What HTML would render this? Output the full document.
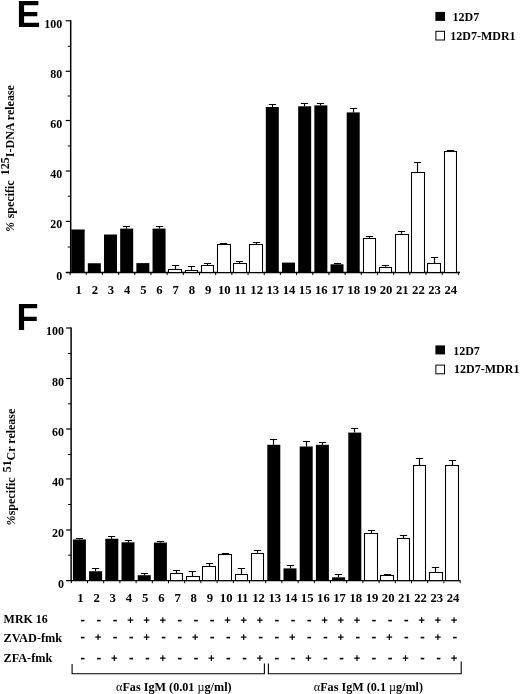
<!DOCTYPE html>
<html><head><meta charset="utf-8"><title>Figure</title>
<style>html,body{margin:0;padding:0;background:#fff;}body{width:520px;height:694px;overflow:hidden;font-family:"Liberation Serif",serif;}</style></head>
<body>
<svg width="520" height="694" viewBox="0 0 520 694" style="display:block;will-change:transform;font-family:&quot;Liberation Serif&quot;,serif;font-weight:bold;" fill="#000">
<rect width="520" height="694" fill="#fff"/>
<text x="16.5" y="26.9" font-size="36" style="font-family:&quot;Liberation Sans&quot;,sans-serif;font-weight:bold">E</text>
<text x="16.5" y="330.2" font-size="36" style="font-family:&quot;Liberation Sans&quot;,sans-serif;font-weight:bold">F</text>
<rect x="70.7" y="229.5" width="1.5" height="43" fill="#666"/>
<line x1="70.7" y1="20.25" x2="70.7" y2="273.2" stroke="#000" stroke-width="1.5"/>
<text x="62.3" y="279.5" font-size="12" text-anchor="end" >0</text>
<line x1="67.7" y1="247" x2="70.7" y2="247" stroke="#000" stroke-width="1"/>
<line x1="65.7" y1="221.4" x2="70.7" y2="221.4" stroke="#000" stroke-width="1.2"/>
<text x="62.3" y="228.4" font-size="12" text-anchor="end" >20</text>
<line x1="67.7" y1="196.2" x2="70.7" y2="196.2" stroke="#000" stroke-width="1"/>
<line x1="65.7" y1="171" x2="70.7" y2="171" stroke="#000" stroke-width="1.2"/>
<text x="62.3" y="178.0" font-size="12" text-anchor="end" >40</text>
<line x1="67.7" y1="146" x2="70.7" y2="146" stroke="#000" stroke-width="1"/>
<line x1="65.7" y1="120.5" x2="70.7" y2="120.5" stroke="#000" stroke-width="1.2"/>
<text x="62.3" y="127.5" font-size="12" text-anchor="end" >60</text>
<line x1="67.7" y1="96" x2="70.7" y2="96" stroke="#000" stroke-width="1"/>
<line x1="65.7" y1="71.3" x2="70.7" y2="71.3" stroke="#000" stroke-width="1.2"/>
<text x="62.3" y="78.3" font-size="12" text-anchor="end" >80</text>
<line x1="67.7" y1="46.3" x2="70.7" y2="46.3" stroke="#000" stroke-width="1"/>
<line x1="65.7" y1="20.75" x2="70.7" y2="20.75" stroke="#000" stroke-width="1.2"/>
<text x="62.3" y="27.8" font-size="12" text-anchor="end" >100</text>
<line x1="65.7" y1="272.5" x2="460" y2="272.5" stroke="#000" stroke-width="1.4"/>
<line x1="70.06" y1="272.5" x2="70.06" y2="275.1" stroke="#000" stroke-width="1"/>
<line x1="86.24" y1="272.5" x2="86.24" y2="275.1" stroke="#000" stroke-width="1"/>
<line x1="102.42" y1="272.5" x2="102.42" y2="275.1" stroke="#000" stroke-width="1"/>
<line x1="118.60" y1="272.5" x2="118.60" y2="275.1" stroke="#000" stroke-width="1"/>
<line x1="134.78" y1="272.5" x2="134.78" y2="275.1" stroke="#000" stroke-width="1"/>
<line x1="150.96" y1="272.5" x2="150.96" y2="275.1" stroke="#000" stroke-width="1"/>
<line x1="167.14" y1="272.5" x2="167.14" y2="275.1" stroke="#000" stroke-width="1"/>
<line x1="183.32" y1="272.5" x2="183.32" y2="275.1" stroke="#000" stroke-width="1"/>
<line x1="199.50" y1="272.5" x2="199.50" y2="275.1" stroke="#000" stroke-width="1"/>
<line x1="215.68" y1="272.5" x2="215.68" y2="275.1" stroke="#000" stroke-width="1"/>
<line x1="231.86" y1="272.5" x2="231.86" y2="275.1" stroke="#000" stroke-width="1"/>
<line x1="248.04" y1="272.5" x2="248.04" y2="275.1" stroke="#000" stroke-width="1"/>
<line x1="264.22" y1="272.5" x2="264.22" y2="275.1" stroke="#000" stroke-width="1"/>
<line x1="280.40" y1="272.5" x2="280.40" y2="275.1" stroke="#000" stroke-width="1"/>
<line x1="296.58" y1="272.5" x2="296.58" y2="275.1" stroke="#000" stroke-width="1"/>
<line x1="312.76" y1="272.5" x2="312.76" y2="275.1" stroke="#000" stroke-width="1"/>
<line x1="328.94" y1="272.5" x2="328.94" y2="275.1" stroke="#000" stroke-width="1"/>
<line x1="345.12" y1="272.5" x2="345.12" y2="275.1" stroke="#000" stroke-width="1"/>
<line x1="361.30" y1="272.5" x2="361.30" y2="275.1" stroke="#000" stroke-width="1"/>
<line x1="377.48" y1="272.5" x2="377.48" y2="275.1" stroke="#000" stroke-width="1"/>
<line x1="393.66" y1="272.5" x2="393.66" y2="275.1" stroke="#000" stroke-width="1"/>
<line x1="409.84" y1="272.5" x2="409.84" y2="275.1" stroke="#000" stroke-width="1"/>
<line x1="426.02" y1="272.5" x2="426.02" y2="275.1" stroke="#000" stroke-width="1"/>
<line x1="442.20" y1="272.5" x2="442.20" y2="275.1" stroke="#000" stroke-width="1"/>
<line x1="458.38" y1="272.5" x2="458.38" y2="275.1" stroke="#000" stroke-width="1"/>
<rect x="71.65" y="229.5" width="13.0" height="43.00" fill="#000"/>
<text transform="translate(78.65,294.0) scale(1.06,1)" font-size="12" text-anchor="middle">1</text>
<rect x="87.83" y="263.25" width="13.0" height="9.25" fill="#000"/>
<text transform="translate(94.83,294.0) scale(1.06,1)" font-size="12" text-anchor="middle">2</text>
<rect x="104.01" y="234.5" width="13.0" height="38.00" fill="#000"/>
<text transform="translate(111.01,294.0) scale(1.06,1)" font-size="12" text-anchor="middle">3</text>
<path d="M126.5 228.6 V226.5 M122.90 226.5 H130.10" stroke="#000" stroke-width="1.15" fill="none"/>
<rect x="120.19" y="228.6" width="13.0" height="43.90" fill="#000"/>
<text transform="translate(127.19,294.0) scale(1.06,1)" font-size="12" text-anchor="middle">4</text>
<rect x="136.37" y="263.1" width="13.0" height="9.40" fill="#000"/>
<text transform="translate(143.37,294.0) scale(1.06,1)" font-size="12" text-anchor="middle">5</text>
<path d="M159.5 228.6 V226.5 M155.90 226.5 H163.10" stroke="#000" stroke-width="1.15" fill="none"/>
<rect x="152.55" y="228.6" width="13.0" height="43.90" fill="#000"/>
<text transform="translate(159.55,294.0) scale(1.06,1)" font-size="12" text-anchor="middle">6</text>
<path d="M175.5 269 V265.5 M171.90 265.5 H179.10" stroke="#000" stroke-width="1.15" fill="none"/>
<rect x="168.5" y="269.5" width="13.0" height="3.00" fill="#fff" stroke="#000" stroke-width="1.05"/>
<text transform="translate(175.73,294.0) scale(1.06,1)" font-size="12" text-anchor="middle">7</text>
<path d="M191.5 269.8 V266.5 M187.90 266.5 H195.10" stroke="#000" stroke-width="1.15" fill="none"/>
<rect x="185.5" y="270.5" width="12.0" height="2.00" fill="#fff" stroke="#000" stroke-width="1.05"/>
<text transform="translate(191.91,294.0) scale(1.06,1)" font-size="12" text-anchor="middle">8</text>
<path d="M207.5 265.0 V263.5 M203.90 263.5 H211.10" stroke="#000" stroke-width="1.15" fill="none"/>
<rect x="201.5" y="265.5" width="12.0" height="7.00" fill="#fff" stroke="#000" stroke-width="1.05"/>
<text transform="translate(208.09,294.0) scale(1.06,1)" font-size="12" text-anchor="middle">9</text>
<path d="M223.5 243.9 V243.5 M219.90 243.5 H227.10" stroke="#000" stroke-width="1.15" fill="none"/>
<rect x="217.5" y="244.5" width="13.0" height="28.00" fill="#fff" stroke="#000" stroke-width="1.05"/>
<text transform="translate(224.27,294.0) scale(1.06,1)" font-size="12" text-anchor="middle">10</text>
<path d="M239.5 262.9 V261.5 M235.90 261.5 H243.10" stroke="#000" stroke-width="1.15" fill="none"/>
<rect x="233.5" y="263.5" width="13.0" height="9.00" fill="#fff" stroke="#000" stroke-width="1.05"/>
<text transform="translate(240.45,294.0) scale(1.06,1)" font-size="12" text-anchor="middle">11</text>
<path d="M256.5 244.6 V242.5 M252.90 242.5 H260.10" stroke="#000" stroke-width="1.15" fill="none"/>
<rect x="249.5" y="244.5" width="13.0" height="28.00" fill="#fff" stroke="#000" stroke-width="1.05"/>
<text transform="translate(256.63,294.0) scale(1.06,1)" font-size="12" text-anchor="middle">12</text>
<path d="M272.5 107.0 V104.5 M268.90 104.5 H276.10" stroke="#000" stroke-width="1.15" fill="none"/>
<rect x="265.81" y="107.0" width="13.0" height="165.50" fill="#000"/>
<text transform="translate(272.81,294.0) scale(1.06,1)" font-size="12" text-anchor="middle">13</text>
<rect x="281.99" y="262.6" width="13.0" height="9.90" fill="#000"/>
<text transform="translate(288.99,294.0) scale(1.06,1)" font-size="12" text-anchor="middle">14</text>
<path d="M304.5 106.3 V103.5 M300.90 103.5 H308.10" stroke="#000" stroke-width="1.15" fill="none"/>
<rect x="298.17" y="106.3" width="13.0" height="166.20" fill="#000"/>
<text transform="translate(305.17,294.0) scale(1.06,1)" font-size="12" text-anchor="middle">15</text>
<path d="M320.5 105.4 V103.5 M316.90 103.5 H324.10" stroke="#000" stroke-width="1.15" fill="none"/>
<rect x="314.35" y="105.4" width="13.0" height="167.10" fill="#000"/>
<text transform="translate(321.35,294.0) scale(1.06,1)" font-size="12" text-anchor="middle">16</text>
<path d="M337.5 264.3 V263.5 M333.90 263.5 H341.10" stroke="#000" stroke-width="1.15" fill="none"/>
<rect x="330.53" y="264.3" width="13.0" height="8.20" fill="#000"/>
<text transform="translate(337.53,294.0) scale(1.06,1)" font-size="12" text-anchor="middle">17</text>
<path d="M353.5 112.4 V108.5 M349.90 108.5 H357.10" stroke="#000" stroke-width="1.15" fill="none"/>
<rect x="346.71" y="112.4" width="13.0" height="160.10" fill="#000"/>
<text transform="translate(353.71,294.0) scale(1.06,1)" font-size="12" text-anchor="middle">18</text>
<path d="M369.5 238.5 V236.5 M365.90 236.5 H373.10" stroke="#000" stroke-width="1.15" fill="none"/>
<rect x="363.5" y="238.5" width="12.0" height="34.00" fill="#fff" stroke="#000" stroke-width="1.05"/>
<text transform="translate(369.89,294.0) scale(1.06,1)" font-size="12" text-anchor="middle">19</text>
<path d="M385.5 266.8 V265.5 M381.90 265.5 H389.10" stroke="#000" stroke-width="1.15" fill="none"/>
<rect x="379.5" y="267.5" width="12.0" height="5.00" fill="#fff" stroke="#000" stroke-width="1.05"/>
<text transform="translate(386.07,294.0) scale(1.06,1)" font-size="12" text-anchor="middle">20</text>
<path d="M401.5 234.7 V231.5 M397.90 231.5 H405.10" stroke="#000" stroke-width="1.15" fill="none"/>
<rect x="395.5" y="234.5" width="13.0" height="38.00" fill="#fff" stroke="#000" stroke-width="1.05"/>
<text transform="translate(402.25,294.0) scale(1.06,1)" font-size="12" text-anchor="middle">21</text>
<path d="M417.5 172.5 V162.5 M413.90 162.5 H421.10" stroke="#000" stroke-width="1.15" fill="none"/>
<rect x="411.5" y="172.5" width="13.0" height="100.00" fill="#fff" stroke="#000" stroke-width="1.05"/>
<text transform="translate(418.43,294.0) scale(1.06,1)" font-size="12" text-anchor="middle">22</text>
<path d="M434.5 263 V257.5 M430.90 257.5 H438.10" stroke="#000" stroke-width="1.15" fill="none"/>
<rect x="427.5" y="263.5" width="13.0" height="9.00" fill="#fff" stroke="#000" stroke-width="1.05"/>
<text transform="translate(434.61,294.0) scale(1.06,1)" font-size="12" text-anchor="middle">23</text>
<path d="M450.5 151.3 V150.5 M446.90 150.5 H454.10" stroke="#000" stroke-width="1.15" fill="none"/>
<rect x="444.5" y="151.5" width="12.0" height="121.00" fill="#fff" stroke="#000" stroke-width="1.05"/>
<text transform="translate(450.79,294.0) scale(1.06,1)" font-size="12" text-anchor="middle">24</text>
<line x1="71.1" y1="327.5" x2="71.1" y2="581.3000000000001" stroke="#000" stroke-width="1.5"/>
<text x="64" y="588.0" font-size="12" text-anchor="end" >0</text>
<line x1="68.1" y1="555.2" x2="71.1" y2="555.2" stroke="#000" stroke-width="1"/>
<line x1="66.1" y1="530" x2="71.1" y2="530" stroke="#000" stroke-width="1.2"/>
<text x="64" y="537.4" font-size="12" text-anchor="end" >20</text>
<line x1="68.1" y1="504.5" x2="71.1" y2="504.5" stroke="#000" stroke-width="1"/>
<line x1="66.1" y1="478.9" x2="71.1" y2="478.9" stroke="#000" stroke-width="1.2"/>
<text x="64" y="486.3" font-size="12" text-anchor="end" >40</text>
<line x1="68.1" y1="454.5" x2="71.1" y2="454.5" stroke="#000" stroke-width="1"/>
<line x1="66.1" y1="429" x2="71.1" y2="429" stroke="#000" stroke-width="1.2"/>
<text x="64" y="436.4" font-size="12" text-anchor="end" >60</text>
<line x1="68.1" y1="403.8" x2="71.1" y2="403.8" stroke="#000" stroke-width="1"/>
<line x1="66.1" y1="378.5" x2="71.1" y2="378.5" stroke="#000" stroke-width="1.2"/>
<text x="64" y="385.9" font-size="12" text-anchor="end" >80</text>
<line x1="68.1" y1="353.5" x2="71.1" y2="353.5" stroke="#000" stroke-width="1"/>
<line x1="66.1" y1="328" x2="71.1" y2="328" stroke="#000" stroke-width="1.2"/>
<text x="64" y="335.4" font-size="12" text-anchor="end" >100</text>
<line x1="66.1" y1="580.6" x2="460.5" y2="580.6" stroke="#000" stroke-width="1.4"/>
<line x1="71.30" y1="580.6" x2="71.30" y2="583.2" stroke="#000" stroke-width="1"/>
<line x1="87.50" y1="580.6" x2="87.50" y2="583.2" stroke="#000" stroke-width="1"/>
<line x1="103.70" y1="580.6" x2="103.70" y2="583.2" stroke="#000" stroke-width="1"/>
<line x1="119.90" y1="580.6" x2="119.90" y2="583.2" stroke="#000" stroke-width="1"/>
<line x1="136.10" y1="580.6" x2="136.10" y2="583.2" stroke="#000" stroke-width="1"/>
<line x1="152.30" y1="580.6" x2="152.30" y2="583.2" stroke="#000" stroke-width="1"/>
<line x1="168.50" y1="580.6" x2="168.50" y2="583.2" stroke="#000" stroke-width="1"/>
<line x1="184.70" y1="580.6" x2="184.70" y2="583.2" stroke="#000" stroke-width="1"/>
<line x1="200.90" y1="580.6" x2="200.90" y2="583.2" stroke="#000" stroke-width="1"/>
<line x1="217.10" y1="580.6" x2="217.10" y2="583.2" stroke="#000" stroke-width="1"/>
<line x1="233.30" y1="580.6" x2="233.30" y2="583.2" stroke="#000" stroke-width="1"/>
<line x1="249.50" y1="580.6" x2="249.50" y2="583.2" stroke="#000" stroke-width="1"/>
<line x1="265.70" y1="580.6" x2="265.70" y2="583.2" stroke="#000" stroke-width="1"/>
<line x1="281.90" y1="580.6" x2="281.90" y2="583.2" stroke="#000" stroke-width="1"/>
<line x1="298.10" y1="580.6" x2="298.10" y2="583.2" stroke="#000" stroke-width="1"/>
<line x1="314.30" y1="580.6" x2="314.30" y2="583.2" stroke="#000" stroke-width="1"/>
<line x1="330.50" y1="580.6" x2="330.50" y2="583.2" stroke="#000" stroke-width="1"/>
<line x1="346.70" y1="580.6" x2="346.70" y2="583.2" stroke="#000" stroke-width="1"/>
<line x1="362.90" y1="580.6" x2="362.90" y2="583.2" stroke="#000" stroke-width="1"/>
<line x1="379.10" y1="580.6" x2="379.10" y2="583.2" stroke="#000" stroke-width="1"/>
<line x1="395.30" y1="580.6" x2="395.30" y2="583.2" stroke="#000" stroke-width="1"/>
<line x1="411.50" y1="580.6" x2="411.50" y2="583.2" stroke="#000" stroke-width="1"/>
<line x1="427.70" y1="580.6" x2="427.70" y2="583.2" stroke="#000" stroke-width="1"/>
<line x1="443.90" y1="580.6" x2="443.90" y2="583.2" stroke="#000" stroke-width="1"/>
<line x1="460.10" y1="580.6" x2="460.10" y2="583.2" stroke="#000" stroke-width="1"/>
<path d="M79.5 539.5 V538.5 M75.90 538.5 H83.10" stroke="#000" stroke-width="1.15" fill="none"/>
<rect x="72.90" y="539.5" width="13.0" height="41.10" fill="#000"/>
<text transform="translate(80.40,601.7) scale(1.06,1)" font-size="12" text-anchor="middle">1</text>
<path d="M95.5 571.25 V568.5 M91.90 568.5 H99.10" stroke="#000" stroke-width="1.15" fill="none"/>
<rect x="89.10" y="571.25" width="13.0" height="9.35" fill="#000"/>
<text transform="translate(96.60,601.7) scale(1.06,1)" font-size="12" text-anchor="middle">2</text>
<path d="M111.5 538.75 V536.5 M107.90 536.5 H115.10" stroke="#000" stroke-width="1.15" fill="none"/>
<rect x="105.30" y="538.75" width="13.0" height="41.85" fill="#000"/>
<text transform="translate(112.80,601.7) scale(1.06,1)" font-size="12" text-anchor="middle">3</text>
<path d="M128.5 542.3 V540.5 M124.90 540.5 H132.10" stroke="#000" stroke-width="1.15" fill="none"/>
<rect x="121.50" y="542.3" width="13.0" height="38.30" fill="#000"/>
<text transform="translate(129.00,601.7) scale(1.06,1)" font-size="12" text-anchor="middle">4</text>
<path d="M144.5 575.2 V573.5 M140.90 573.5 H148.10" stroke="#000" stroke-width="1.15" fill="none"/>
<rect x="137.70" y="575.2" width="13.0" height="5.40" fill="#000"/>
<text transform="translate(145.20,601.7) scale(1.06,1)" font-size="12" text-anchor="middle">5</text>
<path d="M160.5 542.6 V541.5 M156.90 541.5 H164.10" stroke="#000" stroke-width="1.15" fill="none"/>
<rect x="153.90" y="542.6" width="13.0" height="38.00" fill="#000"/>
<text transform="translate(161.40,601.7) scale(1.06,1)" font-size="12" text-anchor="middle">6</text>
<path d="M176.5 573.4 V570.5 M172.90 570.5 H180.10" stroke="#000" stroke-width="1.15" fill="none"/>
<rect x="170.5" y="573.5" width="12.0" height="7.10" fill="#fff" stroke="#000" stroke-width="1.05"/>
<text transform="translate(177.60,601.7) scale(1.06,1)" font-size="12" text-anchor="middle">7</text>
<path d="M192.5 576.2 V571.5 M188.90 571.5 H196.10" stroke="#000" stroke-width="1.15" fill="none"/>
<rect x="186.5" y="576.5" width="13.0" height="4.10" fill="#fff" stroke="#000" stroke-width="1.05"/>
<text transform="translate(193.80,601.7) scale(1.06,1)" font-size="12" text-anchor="middle">8</text>
<path d="M209.5 566.3 V563.5 M205.90 563.5 H213.10" stroke="#000" stroke-width="1.15" fill="none"/>
<rect x="202.5" y="566.5" width="13.0" height="14.10" fill="#fff" stroke="#000" stroke-width="1.05"/>
<text transform="translate(210.00,601.7) scale(1.06,1)" font-size="12" text-anchor="middle">9</text>
<path d="M225.5 554.3 V553.5 M221.90 553.5 H229.10" stroke="#000" stroke-width="1.15" fill="none"/>
<rect x="218.5" y="554.5" width="13.0" height="26.10" fill="#fff" stroke="#000" stroke-width="1.05"/>
<text transform="translate(226.20,601.7) scale(1.06,1)" font-size="12" text-anchor="middle">10</text>
<path d="M241.5 574.3 V568.5 M237.90 568.5 H245.10" stroke="#000" stroke-width="1.15" fill="none"/>
<rect x="235.5" y="574.5" width="12.0" height="6.10" fill="#fff" stroke="#000" stroke-width="1.05"/>
<text transform="translate(242.40,601.7) scale(1.06,1)" font-size="12" text-anchor="middle">11</text>
<path d="M257.5 552.8 V550.5 M253.90 550.5 H261.10" stroke="#000" stroke-width="1.15" fill="none"/>
<rect x="251.5" y="553.5" width="12.0" height="27.10" fill="#fff" stroke="#000" stroke-width="1.05"/>
<text transform="translate(258.60,601.7) scale(1.06,1)" font-size="12" text-anchor="middle">12</text>
<path d="M273.5 444.8 V439.5 M269.90 439.5 H277.10" stroke="#000" stroke-width="1.15" fill="none"/>
<rect x="267.30" y="444.8" width="13.0" height="135.80" fill="#000"/>
<text transform="translate(274.80,601.7) scale(1.06,1)" font-size="12" text-anchor="middle">13</text>
<path d="M290.5 568.4 V565.5 M286.90 565.5 H294.10" stroke="#000" stroke-width="1.15" fill="none"/>
<rect x="283.50" y="568.4" width="13.0" height="12.20" fill="#000"/>
<text transform="translate(291.00,601.7) scale(1.06,1)" font-size="12" text-anchor="middle">14</text>
<path d="M306.5 446.5 V441.5 M302.90 441.5 H310.10" stroke="#000" stroke-width="1.15" fill="none"/>
<rect x="299.70" y="446.5" width="13.0" height="134.10" fill="#000"/>
<text transform="translate(307.20,601.7) scale(1.06,1)" font-size="12" text-anchor="middle">15</text>
<path d="M322.5 444.8 V442.5 M318.90 442.5 H326.10" stroke="#000" stroke-width="1.15" fill="none"/>
<rect x="315.90" y="444.8" width="13.0" height="135.80" fill="#000"/>
<text transform="translate(323.40,601.7) scale(1.06,1)" font-size="12" text-anchor="middle">16</text>
<path d="M338.5 577.3 V574.5 M334.90 574.5 H342.10" stroke="#000" stroke-width="1.15" fill="none"/>
<rect x="332.10" y="577.3" width="13.0" height="3.30" fill="#000"/>
<text transform="translate(339.60,601.7) scale(1.06,1)" font-size="12" text-anchor="middle">17</text>
<path d="M354.5 432.6 V428.5 M350.90 428.5 H358.10" stroke="#000" stroke-width="1.15" fill="none"/>
<rect x="348.30" y="432.6" width="13.0" height="148.00" fill="#000"/>
<text transform="translate(355.80,601.7) scale(1.06,1)" font-size="12" text-anchor="middle">18</text>
<path d="M371.5 533.7 V530.5 M367.90 530.5 H375.10" stroke="#000" stroke-width="1.15" fill="none"/>
<rect x="364.5" y="533.5" width="13.0" height="47.10" fill="#fff" stroke="#000" stroke-width="1.05"/>
<text transform="translate(372.00,601.7) scale(1.06,1)" font-size="12" text-anchor="middle">19</text>
<path d="M387.5 575.2 V574.5 M383.90 574.5 H391.10" stroke="#000" stroke-width="1.15" fill="none"/>
<rect x="380.5" y="575.5" width="13.0" height="5.10" fill="#fff" stroke="#000" stroke-width="1.05"/>
<text transform="translate(388.20,601.7) scale(1.06,1)" font-size="12" text-anchor="middle">20</text>
<path d="M403.5 537.9 V535.5 M399.90 535.5 H407.10" stroke="#000" stroke-width="1.15" fill="none"/>
<rect x="397.5" y="538.5" width="12.0" height="42.10" fill="#fff" stroke="#000" stroke-width="1.05"/>
<text transform="translate(404.40,601.7) scale(1.06,1)" font-size="12" text-anchor="middle">21</text>
<path d="M419.5 465.2 V458.5 M415.90 458.5 H423.10" stroke="#000" stroke-width="1.15" fill="none"/>
<rect x="413.5" y="465.5" width="12.0" height="115.10" fill="#fff" stroke="#000" stroke-width="1.05"/>
<text transform="translate(420.60,601.7) scale(1.06,1)" font-size="12" text-anchor="middle">22</text>
<path d="M435.5 572.4 V567.5 M431.90 567.5 H439.10" stroke="#000" stroke-width="1.15" fill="none"/>
<rect x="429.5" y="572.5" width="13.0" height="8.10" fill="#fff" stroke="#000" stroke-width="1.05"/>
<text transform="translate(436.80,601.7) scale(1.06,1)" font-size="12" text-anchor="middle">23</text>
<path d="M452.5 465.6 V460.5 M448.90 460.5 H456.10" stroke="#000" stroke-width="1.15" fill="none"/>
<rect x="445.5" y="465.5" width="13.0" height="115.10" fill="#fff" stroke="#000" stroke-width="1.05"/>
<text transform="translate(453.00,601.7) scale(1.06,1)" font-size="12" text-anchor="middle">24</text>
<rect x="435.4" y="11.9" width="9.6" height="9" fill="#000"/>
<rect x="435.9" y="31.3" width="8.6" height="8.7" fill="#fff" stroke="#000" stroke-width="1"/>
<text x="452.5" y="21.1" font-size="12" text-anchor="start" >12D7</text>
<text x="450.3" y="39.6" font-size="12" text-anchor="start" >12D7-MDR1</text>
<rect x="435.4" y="345.4" width="9.6" height="9" fill="#000"/>
<rect x="435.9" y="365.1" width="8.6" height="8.7" fill="#fff" stroke="#000" stroke-width="1"/>
<text x="453.2" y="354.59999999999997" font-size="12" text-anchor="start" >12D7</text>
<text x="454.1" y="373.40000000000003" font-size="12" text-anchor="start" >12D7-MDR1</text>
<g transform="translate(13.5,232) rotate(-90)" font-size="12"><text x="0.3" y="0" font-size="11.5" style="font-style:italic">%</text><text x="13.7" y="0">specific</text><text x="56.8" y="-4.3">125</text><text x="74.8" y="0">I-DNA release</text></g>
<g transform="translate(15,525.5) rotate(-90)" font-size="12"><text x="0.3" y="0" font-size="11.5" style="font-style:italic">%</text><text x="10.2" y="0">specific</text><text x="53.3" y="-4.2">51</text><text x="65" y="0">Cr release</text></g>
<text x="3.6" y="622.6" font-size="12.3" text-anchor="start" textLength="44.2" lengthAdjust="spacingAndGlyphs">MRK 16</text>
<text x="3.6" y="642.4" font-size="12.3" text-anchor="start" textLength="58.6" lengthAdjust="spacingAndGlyphs">ZVAD-fmk</text>
<text x="3.6" y="661.7" font-size="12.3" text-anchor="start" textLength="48.6" lengthAdjust="spacingAndGlyphs">ZFA-fmk</text>
<rect x="80.90" y="619.80" width="3.6" height="1.6" fill="#000"/>
<rect x="97.08" y="619.80" width="3.6" height="1.6" fill="#000"/>
<rect x="113.26" y="619.80" width="3.6" height="1.6" fill="#000"/>
<path d="M127.64 620.2 H133.24 M130.44 617.3000000000001 V623.1" stroke="#000" stroke-width="1.2" fill="none"/>
<path d="M143.82 620.2 H149.42 M146.62 617.3000000000001 V623.1" stroke="#000" stroke-width="1.2" fill="none"/>
<path d="M160.00 620.2 H165.60 M162.80 617.3000000000001 V623.1" stroke="#000" stroke-width="1.2" fill="none"/>
<rect x="177.98" y="619.80" width="3.6" height="1.6" fill="#000"/>
<rect x="194.16" y="619.80" width="3.6" height="1.6" fill="#000"/>
<rect x="210.34" y="619.80" width="3.6" height="1.6" fill="#000"/>
<path d="M224.72 620.2 H230.32 M227.52 617.3000000000001 V623.1" stroke="#000" stroke-width="1.2" fill="none"/>
<path d="M240.90 620.2 H246.50 M243.70 617.3000000000001 V623.1" stroke="#000" stroke-width="1.2" fill="none"/>
<path d="M257.08 620.2 H262.68 M259.88 617.3000000000001 V623.1" stroke="#000" stroke-width="1.2" fill="none"/>
<rect x="275.06" y="619.80" width="3.6" height="1.6" fill="#000"/>
<rect x="291.24" y="619.80" width="3.6" height="1.6" fill="#000"/>
<rect x="307.42" y="619.80" width="3.6" height="1.6" fill="#000"/>
<path d="M321.80 620.2 H327.40 M324.60 617.3000000000001 V623.1" stroke="#000" stroke-width="1.2" fill="none"/>
<path d="M337.98 620.2 H343.58 M340.78 617.3000000000001 V623.1" stroke="#000" stroke-width="1.2" fill="none"/>
<path d="M354.16 620.2 H359.76 M356.96 617.3000000000001 V623.1" stroke="#000" stroke-width="1.2" fill="none"/>
<rect x="372.14" y="619.80" width="3.6" height="1.6" fill="#000"/>
<rect x="388.32" y="619.80" width="3.6" height="1.6" fill="#000"/>
<rect x="404.50" y="619.80" width="3.6" height="1.6" fill="#000"/>
<path d="M418.88 620.2 H424.48 M421.68 617.3000000000001 V623.1" stroke="#000" stroke-width="1.2" fill="none"/>
<path d="M435.06 620.2 H440.66 M437.86 617.3000000000001 V623.1" stroke="#000" stroke-width="1.2" fill="none"/>
<path d="M451.24 620.2 H456.84 M454.04 617.3000000000001 V623.1" stroke="#000" stroke-width="1.2" fill="none"/>
<rect x="80.90" y="636.80" width="3.6" height="1.6" fill="#000"/>
<path d="M95.28 637.2 H100.88 M98.08 634.3000000000001 V640.1" stroke="#000" stroke-width="1.2" fill="none"/>
<rect x="113.26" y="636.80" width="3.6" height="1.6" fill="#000"/>
<rect x="129.44" y="636.80" width="3.6" height="1.6" fill="#000"/>
<path d="M143.82 637.2 H149.42 M146.62 634.3000000000001 V640.1" stroke="#000" stroke-width="1.2" fill="none"/>
<rect x="161.80" y="636.80" width="3.6" height="1.6" fill="#000"/>
<rect x="177.98" y="636.80" width="3.6" height="1.6" fill="#000"/>
<path d="M192.36 637.2 H197.96 M195.16 634.3000000000001 V640.1" stroke="#000" stroke-width="1.2" fill="none"/>
<rect x="210.34" y="636.80" width="3.6" height="1.6" fill="#000"/>
<rect x="226.52" y="636.80" width="3.6" height="1.6" fill="#000"/>
<path d="M240.90 637.2 H246.50 M243.70 634.3000000000001 V640.1" stroke="#000" stroke-width="1.2" fill="none"/>
<rect x="258.88" y="636.80" width="3.6" height="1.6" fill="#000"/>
<rect x="275.06" y="636.80" width="3.6" height="1.6" fill="#000"/>
<path d="M289.44 637.2 H295.04 M292.24 634.3000000000001 V640.1" stroke="#000" stroke-width="1.2" fill="none"/>
<rect x="307.42" y="636.80" width="3.6" height="1.6" fill="#000"/>
<rect x="323.60" y="636.80" width="3.6" height="1.6" fill="#000"/>
<path d="M337.98 637.2 H343.58 M340.78 634.3000000000001 V640.1" stroke="#000" stroke-width="1.2" fill="none"/>
<rect x="355.96" y="636.80" width="3.6" height="1.6" fill="#000"/>
<rect x="372.14" y="636.80" width="3.6" height="1.6" fill="#000"/>
<path d="M386.52 637.2 H392.12 M389.32 634.3000000000001 V640.1" stroke="#000" stroke-width="1.2" fill="none"/>
<rect x="404.50" y="636.80" width="3.6" height="1.6" fill="#000"/>
<rect x="420.68" y="636.80" width="3.6" height="1.6" fill="#000"/>
<path d="M435.06 637.2 H440.66 M437.86 634.3000000000001 V640.1" stroke="#000" stroke-width="1.2" fill="none"/>
<rect x="453.04" y="636.80" width="3.6" height="1.6" fill="#000"/>
<rect x="80.90" y="657.80" width="3.6" height="1.6" fill="#000"/>
<rect x="97.08" y="657.80" width="3.6" height="1.6" fill="#000"/>
<path d="M111.46 658.2 H117.06 M114.26 655.3000000000001 V661.1" stroke="#000" stroke-width="1.2" fill="none"/>
<rect x="129.44" y="657.80" width="3.6" height="1.6" fill="#000"/>
<rect x="145.62" y="657.80" width="3.6" height="1.6" fill="#000"/>
<path d="M160.00 658.2 H165.60 M162.80 655.3000000000001 V661.1" stroke="#000" stroke-width="1.2" fill="none"/>
<rect x="177.98" y="657.80" width="3.6" height="1.6" fill="#000"/>
<rect x="194.16" y="657.80" width="3.6" height="1.6" fill="#000"/>
<path d="M208.54 658.2 H214.14 M211.34 655.3000000000001 V661.1" stroke="#000" stroke-width="1.2" fill="none"/>
<rect x="226.52" y="657.80" width="3.6" height="1.6" fill="#000"/>
<rect x="242.70" y="657.80" width="3.6" height="1.6" fill="#000"/>
<path d="M257.08 658.2 H262.68 M259.88 655.3000000000001 V661.1" stroke="#000" stroke-width="1.2" fill="none"/>
<rect x="275.06" y="657.80" width="3.6" height="1.6" fill="#000"/>
<rect x="291.24" y="657.80" width="3.6" height="1.6" fill="#000"/>
<path d="M305.62 658.2 H311.22 M308.42 655.3000000000001 V661.1" stroke="#000" stroke-width="1.2" fill="none"/>
<rect x="323.60" y="657.80" width="3.6" height="1.6" fill="#000"/>
<rect x="339.78" y="657.80" width="3.6" height="1.6" fill="#000"/>
<path d="M354.16 658.2 H359.76 M356.96 655.3000000000001 V661.1" stroke="#000" stroke-width="1.2" fill="none"/>
<rect x="372.14" y="657.80" width="3.6" height="1.6" fill="#000"/>
<rect x="388.32" y="657.80" width="3.6" height="1.6" fill="#000"/>
<path d="M402.70 658.2 H408.30 M405.50 655.3000000000001 V661.1" stroke="#000" stroke-width="1.2" fill="none"/>
<rect x="420.68" y="657.80" width="3.6" height="1.6" fill="#000"/>
<rect x="436.86" y="657.80" width="3.6" height="1.6" fill="#000"/>
<path d="M451.24 658.2 H456.84 M454.04 655.3000000000001 V661.1" stroke="#000" stroke-width="1.2" fill="none"/>
<path d="M72.1 664 V673.8 H264.4 V663.4" stroke="#000" stroke-width="1.1" fill="none"/>
<path d="M268.4 663.4 V673.8 H461.2 V661.4" stroke="#000" stroke-width="1.1" fill="none"/>
<text x="116" y="691" font-size="12.3" textLength="115.6" lengthAdjust="spacingAndGlyphs"><tspan style="font-weight:normal">α</tspan>Fas IgM (0.01 <tspan style="font-weight:normal">µ</tspan>g/ml)</text>
<text x="313.8" y="691" font-size="12.3" textLength="109.2" lengthAdjust="spacingAndGlyphs"><tspan style="font-weight:normal">α</tspan>Fas IgM (0.1 <tspan style="font-weight:normal">µ</tspan>g/ml)</text>
</svg>
</body></html>
